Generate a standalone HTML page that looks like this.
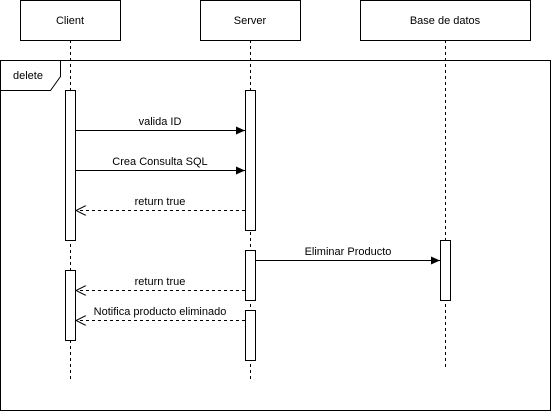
<!DOCTYPE html>
<html><head><meta charset="utf-8"><style>
html,body{margin:0;padding:0;background:#fff;width:551px;height:411px;overflow:hidden}
svg{display:block}
text{font-family:"Liberation Sans",Arial,sans-serif;font-size:11px;fill:#000}
</style></head><body>
<svg width="551" height="411" viewBox="0 0 551 411" xmlns="http://www.w3.org/2000/svg">
<defs>
<marker id="f" markerWidth="10" markerHeight="8" refX="9" refY="4" orient="auto" markerUnits="userSpaceOnUse"><path d="M0,0 L9,4 L0,8 Z" fill="#000"/></marker>
<marker id="o" markerWidth="12" markerHeight="10" refX="11" refY="5" orient="auto" markerUnits="userSpaceOnUse"><path d="M1,0 L11,5 L1,10" fill="none" stroke="#000"/></marker>
</defs>
<g stroke="#000" fill="none" stroke-width="1">
<rect x="20.5" y="0.5" width="100" height="40" fill="#fff"/>
<rect x="200.5" y="0.5" width="100" height="40" fill="#fff"/>
<rect x="360.5" y="0.5" width="170" height="40" fill="#fff"/>
<g stroke-dasharray="3,3">
<line x1="70.5" y1="40" x2="70.5" y2="380"/>
<line x1="250.5" y1="40" x2="250.5" y2="380"/>
<line x1="445.5" y1="40" x2="445.5" y2="370"/>
</g>
<rect x="0.5" y="60.5" width="550" height="350"/>
<path d="M0.5,90.5 H50.5 L60.5,76.5 V60.5"/>
<g fill="#fff">
<rect x="65.5" y="90.5" width="10" height="150"/>
<rect x="65.5" y="270.5" width="10" height="70"/>
<rect x="245.5" y="90.5" width="10" height="140"/>
<rect x="245.5" y="250.5" width="10" height="50"/>
<rect x="245.5" y="310.5" width="10" height="50"/>
<rect x="440.5" y="240.5" width="10" height="60"/>
</g>
<line x1="75.5" y1="130.5" x2="245" y2="130.5" marker-end="url(#f)"/>
<line x1="75.5" y1="170.5" x2="245" y2="170.5" marker-end="url(#f)"/>
<line x1="255.5" y1="260.5" x2="440" y2="260.5" marker-end="url(#f)"/>
<g stroke-dasharray="3,3">
<line x1="245" y1="210.5" x2="76" y2="210.5" marker-end="url(#o)"/>
<line x1="245" y1="290.5" x2="76" y2="290.5" marker-end="url(#o)"/>
<line x1="245" y1="320.5" x2="76" y2="320.5" marker-end="url(#o)"/>
</g>
</g>
<text x="70" y="24" text-anchor="middle" font-size="12">Client</text>
<text x="250" y="24" text-anchor="middle" font-size="12">Server</text>
<text x="445" y="24" text-anchor="middle" font-size="12">Base de datos</text>
<text x="28" y="79" text-anchor="middle" font-size="12">delete</text>
<text x="160" y="125" text-anchor="middle">valida ID</text>
<text x="160" y="165" text-anchor="middle">Crea Consulta SQL</text>
<text x="160" y="205" text-anchor="middle">return true</text>
<text x="348" y="255" text-anchor="middle">Eliminar Producto</text>
<text x="160" y="285" text-anchor="middle">return true</text>
<text x="160" y="315" text-anchor="middle">Notifica producto eliminado</text>
</svg>
</body></html>
